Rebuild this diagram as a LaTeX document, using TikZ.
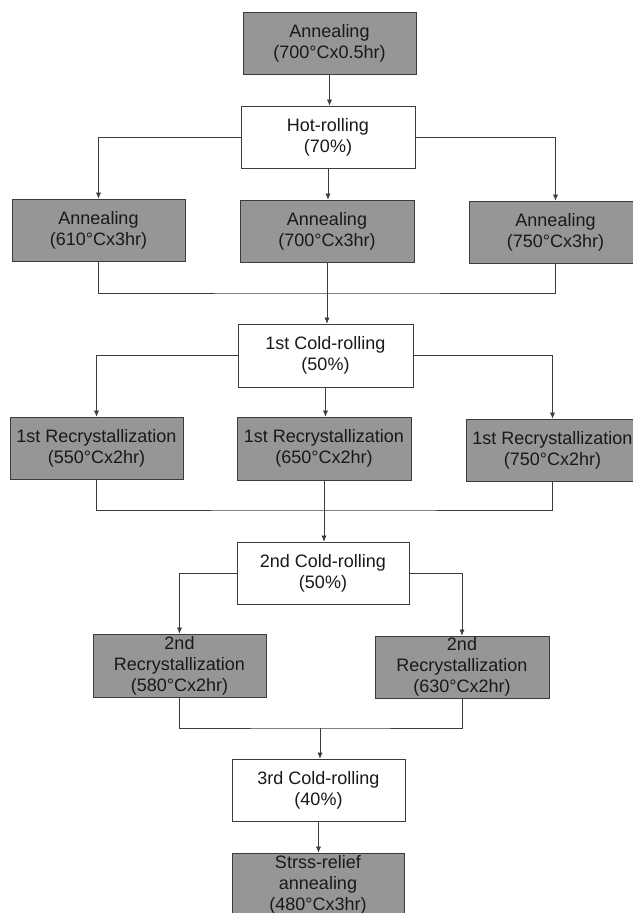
\documentclass[tikz,border=0pt]{standalone}
\usepackage{fontspec}
\setmainfont{Liberation Sans}
\usetikzlibrary{arrows.meta,calc}
\definecolor{boxgray}{RGB}{150,150,150}
\definecolor{linegray}{RGB}{60,60,60}
\begin{document}
\begin{tikzpicture}[x=1pt,y=-1pt,
  base/.style={draw=linegray, line width=0.7pt, align=center, inner sep=0pt,
    font=\fontsize{18}{21}\selectfont, text=black!90},
  graybox/.style={base, fill=boxgray},
  whitebox/.style={base, fill=white},
  conn/.style={draw=linegray, line width=0.6pt},
  arr/.style={conn, -{Latex[length=6pt,width=5pt]}}
]
\useasboundingbox[fill=white] (0,0) rectangle (632,913);

% nodes
\node[graybox, minimum width=173, minimum height=62] (A0) at (329.5,43) {Annealing\\(700°Cx0.5hr)};
\node[whitebox, minimum width=174, minimum height=62] (H) at (328,137) {Hot-rolling\\(70\%)};

\node[graybox, minimum width=173, minimum height=62] (L1) at (98.5,230) {Annealing\\(610°Cx3hr)};
\node[graybox, minimum width=174, minimum height=62] (M1) at (327,231) {Annealing\\(700°Cx3hr)};
\node[graybox, minimum width=173, minimum height=62] (R1) at (555.5,232) {Annealing\\(750°Cx3hr)};

\node[whitebox, minimum width=175, minimum height=63] (C1) at (325.5,355.5) {1st Cold-rolling\\(50\%)};

\node[graybox, minimum width=173, minimum height=62] (L2) at (96.5,448) {1st Recrystallization\\(550°Cx2hr)};
\node[graybox, minimum width=174, minimum height=63] (M2) at (324,448.5) {1st Recrystallization\\(650°Cx2hr)};
\node[graybox, minimum width=173, minimum height=62] (R2) at (552.5,450) {1st Recrystallization\\(750°Cx2hr)};

\node[whitebox, minimum width=172, minimum height=62] (C2) at (323,573) {2nd Cold-rolling\\(50\%)};

\node[graybox, minimum width=173, minimum height=63] (L3) at (179.5,665.5) {2nd\\Recrystallization\\(580°Cx2hr)};
\node[graybox, minimum width=174, minimum height=62] (R3) at (462,667) {2nd\\Recrystallization\\(630°Cx2hr)};

\node[whitebox, minimum width=173, minimum height=62] (C3) at (318.5,790) {3rd Cold-rolling\\(40\%)};
\node[graybox, minimum width=172, minimum height=64] (S) at (318,885) {Strss-relief\\annealing\\(480°Cx3hr)};

% junction points
\coordinate (j1) at (327,293);
\coordinate (j2) at (323,510);
\coordinate (j3) at (320,728);

% connectors
\draw[arr] (A0.south) -- (A0.south |- H.north);
\draw[arr] (H.west) -| (L1.north);
\draw[arr] (H.east) -| (R1.north);
\draw[arr] (H.south) -- (H.south |- M1.north);

\draw[conn] (L1.south) |- (j1) -| (R1.south);
\draw[arr] (M1.south) -- (M1.south |- C1.north);

\draw[arr] (C1.west) -| (L2.north);
\draw[arr] (C1.east) -| (R2.north);
\draw[arr] (C1.south) -- (C1.south |- M2.north);

\draw[conn] (L2.south) |- (j2) -| (R2.south);
\draw[arr] (M2.south) -- (M2.south |- C2.north);

\draw[arr] (C2.west) -| (L3.north);
\draw[arr] (C2.east) -| (R3.north);

\draw[conn] (L3.south) |- (j3) -| (R3.south);
\draw[arr] (j3) -- (j3 |- C3.north);

\draw[arr] (C3.south) -- (C3.south |- S.north);
\end{tikzpicture}
\end{document}
